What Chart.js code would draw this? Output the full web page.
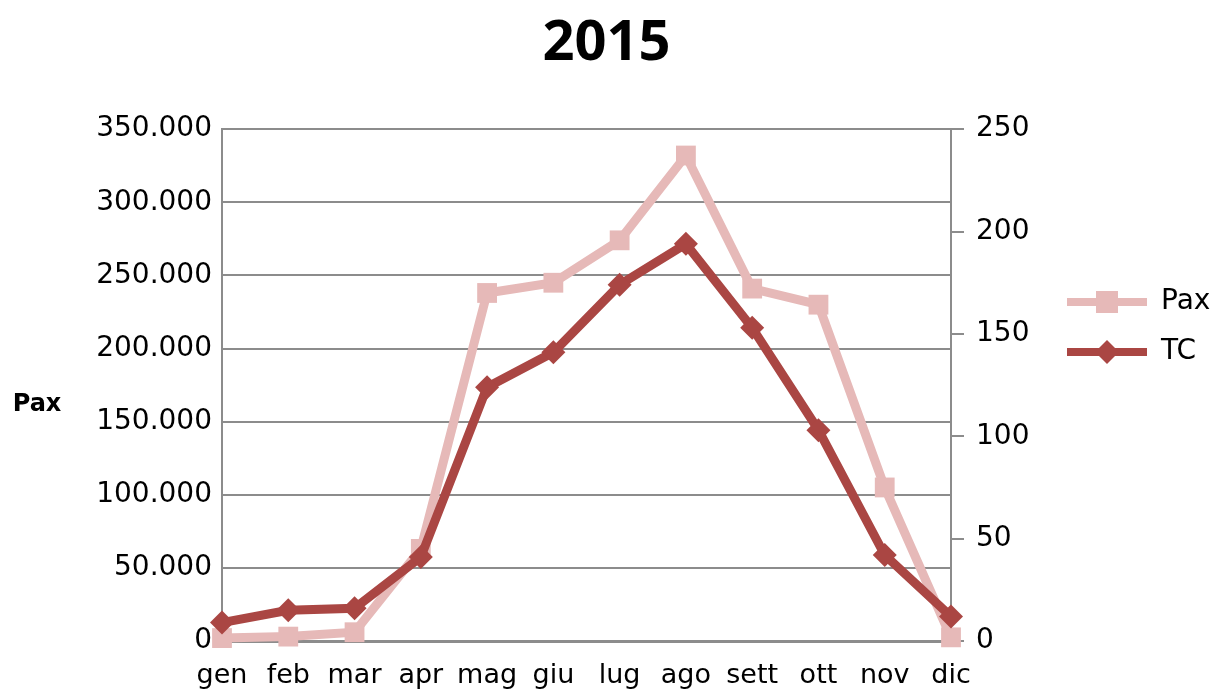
<!DOCTYPE html>
<html><head><meta charset="utf-8">
<script src="https://cdn.jsdelivr.net/npm/chart.js@4.4.0/dist/chart.umd.min.js"></script>
<style>html,body{margin:0;padding:0;background:#fff;overflow:hidden;}</style>
</head><body>
<canvas id="c" width="1217" height="690" style="display:block;width:1217px;height:690px"></canvas>
<script>
const categories = ['gen','feb','mar','apr','mag','giu','lug','ago','sett','ott','nov','dic'];
const paxValues = [2000, 3000, 6000, 63000, 238000, 245000, 274000, 332000, 241000, 230000, 105000, 2500];
const tcValues = [9, 15, 16, 41, 124, 141, 174, 194, 153, 103, 42, 12];
const leftTickLabels = ['0','50.000','100.000','150.000','200.000','250.000','300.000','350.000'];
const rightTickLabels = ['0','50','100','150','200','250'];
const seriesNames = ['Pax', 'TC'];
const titleText = '2015';
const leftAxisTitle = 'Pax';

const PAX_COLOR = '#E6B9B8';
const TC_COLOR = '#AA4643';
const GRID = '#8C8C8C';
const FONT = '"DejaVu Sans"';
const LEGEND_W = 168;
const PAD_R = 4;

function legendImg(color, style) {
  const c = document.createElement('canvas');
  c.width = 80; c.height = 24;
  const g = c.getContext('2d');
  g.fillStyle = color;
  g.fillRect(0, 8, 80, 8);
  if (style === 'rect') {
    g.fillRect(29, 1, 22, 22);
  } else {
    g.beginPath(); g.moveTo(28, 12); g.lineTo(40, 0); g.lineTo(52, 12); g.lineTo(40, 24); g.closePath(); g.fill();
  }
  return c;
}
const legendImages = [legendImg(PAX_COLOR, 'rect'), legendImg(TC_COLOR, 'rectRot')];

const axisTitlePlugin = {
  id: 'axisTitle',
  afterDraw(chart) {
    const ctx = chart.ctx;
    ctx.save();
    ctx.font = 'bold 24px ' + FONT;
    ctx.fillStyle = '#000';
    ctx.textAlign = 'center';
    ctx.textBaseline = 'middle';
    ctx.fillText(leftAxisTitle, 37, 405);
    ctx.restore();
  }
};

new Chart(document.getElementById('c'), {
  type: 'line',
  data: {
    labels: categories,
    datasets: [
      {
        label: seriesNames[0], data: paxValues, yAxisID: 'y', order: 1,
        borderColor: PAX_COLOR, backgroundColor: PAX_COLOR, borderWidth: 9,
        pointStyle: 'rect', pointRadius: 14, pointBorderWidth: 0,
        pointBackgroundColor: PAX_COLOR, tension: 0, clip: false
      },
      {
        label: seriesNames[1], data: tcValues, yAxisID: 'y1', order: 0,
        borderColor: TC_COLOR, backgroundColor: TC_COLOR, borderWidth: 9,
        pointStyle: 'rectRot', pointRadius: 12, pointBorderWidth: 0,
        pointBackgroundColor: TC_COLOR, tension: 0, clip: false
      }
    ]
  },
  options: {
    responsive: false,
    animation: false,
    devicePixelRatio: 1,
    events: [],
    layout: { padding: { right: PAD_R } },
    plugins: {
      title: {
        display: true, text: titleText, color: '#000',
        font: { family: '"Open Sans"', size: 56, weight: 'bold', lineHeight: 1.2 },
        padding: { top: 10, bottom: 52 }
      },
      legend: {
        display: true, position: 'right', align: 'start', maxWidth: LEGEND_W,
        title: { display: true, text: '', font: { size: 10, lineHeight: 1 }, padding: { top: 256, bottom: 0 } },
        labels: {
          color: '#000', font: { family: FONT, size: 28 }, padding: 22,
          usePointStyle: true, pointStyleWidth: 80,
          generateLabels(chart) {
            const items = Chart.defaults.plugins.legend.labels.generateLabels(chart);
            items.sort((a, b) => a.datasetIndex - b.datasetIndex);
            items.forEach(it => { it.pointStyle = legendImages[it.datasetIndex]; it.rotation = 0; });
            return items;
          }
        }
      },
      tooltip: { enabled: false }
    },
    scales: {
      x: {
        offset: false,
        grid: { display: false, drawTicks: false },
        border: { display: true, color: GRID, width: 3 },
        ticks: { color: '#000', font: { family: FONT, size: 27 }, padding: 19, maxRotation: 0, autoSkip: false },
        afterFit(s) { s.height = 49; }
      },
      y: {
        position: 'left', min: 0, max: 350000,
        grid: { color: GRID, lineWidth: 2, drawTicks: false },
        border: { display: true, color: GRID, width: 2 },
        ticks: {
          stepSize: 50000, color: '#000', font: { family: FONT, size: 28 }, padding: 10,
          callback(v, i) { return leftTickLabels[i]; }
        },
        afterFit(s) { s.width = 222; }
      },
      y1: {
        position: 'right', min: 0, max: 250,
        grid: { drawOnChartArea: false, color: GRID, lineWidth: 2, tickLength: 13 },
        border: { display: true, color: GRID, width: 2 },
        ticks: {
          stepSize: 50, color: '#000', font: { family: FONT, size: 28 }, padding: 12,
          callback(v, i) { return rightTickLabels[i]; }
        },
        afterFit(s) { s.width = 1217 - PAD_R - LEGEND_W - 951; }
      }
    }
  },
  plugins: [axisTitlePlugin]
});
</script>
</body></html>
